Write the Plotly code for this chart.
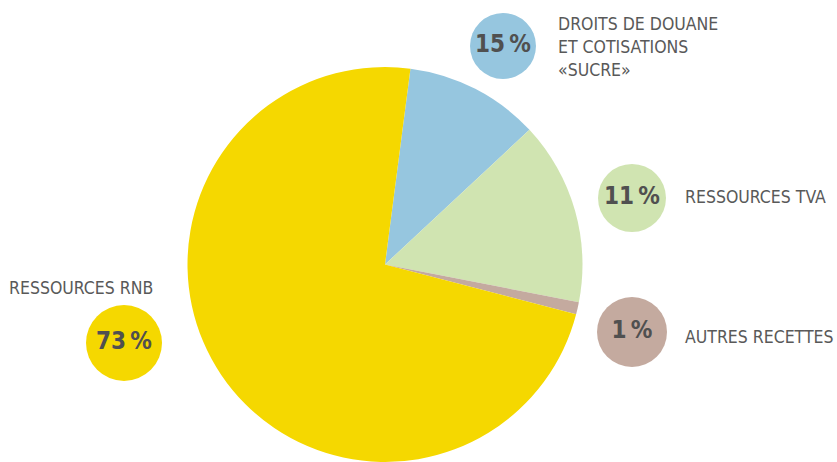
import plotly.graph_objects as go

# Slice values as drawn (percent of revenue)
categories = ["DROITS DE DOUANE ET COTISATIONS «SUCRE»", "RESSOURCES TVA", "AUTRES RECETTES", "RESSOURCES RNB"]
values = [11, 15, 1, 73]
slice_colors = ["#96C6DF", "#D0E4B1", "#C4AA9F", "#F5D800"]

# Callout labels as printed in the picture
pct_labels = ["15\u2009%", "11\u2009%", "1\u2009%", "73\u2009%"]
name_labels = ["DROITS DE DOUANE<br>ET COTISATIONS<br>«SUCRE»", "RESSOURCES TVA", "AUTRES RECETTES", "RESSOURCES RNB"]

# Callout geometry (pixel-space positions, y measured from top)
bubble_x = [503, 632, 632, 124]
bubble_y = [46, 198, 332, 343]
bubble_d = [66, 68, 70, 76]
name_x = [556, 683, 683, 7]
name_y = [47, 197, 337, 288]

W, H = 837, 462
FONT = "DejaVu Sans Condensed, Liberation Sans Narrow, sans-serif"
TXT = "#595959"

fig = go.Figure()
fig.add_trace(go.Pie(
    labels=categories, values=values, sort=False, direction="clockwise",
    rotation=7.4, marker=dict(colors=slice_colors, line=dict(width=0)),
    textinfo="none", hoverinfo="skip", showlegend=False,
    domain=dict(x=[187 / W, 583 / W], y=[0, 395 / H]),
))

fig.add_trace(go.Scatter(
    x=bubble_x, y=[H - v for v in bubble_y], mode="markers+text",
    marker=dict(size=bubble_d, color=slice_colors, line=dict(width=0), opacity=1),
    text=pct_labels, textposition="middle center",
    textfont=dict(family=FONT, size=24, color="#505050", weight="bold"),
    hoverinfo="skip", showlegend=False, cliponaxis=False,
))

for t, x, y in zip(name_labels, name_x, name_y):
    fig.add_annotation(
        x=x, y=H - y, xref="x", yref="y", text=t, showarrow=False,
        xanchor="left", yanchor="middle", align="left",
        font=dict(family=FONT, size=17.5, color=TXT),
    )

fig.update_layout(
    width=W, height=H, margin=dict(l=0, r=0, t=0, b=0),
    paper_bgcolor="white", plot_bgcolor="rgba(0,0,0,0)",
    xaxis=dict(range=[0, W], visible=False, fixedrange=True),
    yaxis=dict(range=[0, H], visible=False, fixedrange=True),
)
fig.write_html(
    "out.html",
    config={"displayModeBar": False},
    post_script="document.body.style.margin='0';document.body.style.overflow='hidden';",
)
